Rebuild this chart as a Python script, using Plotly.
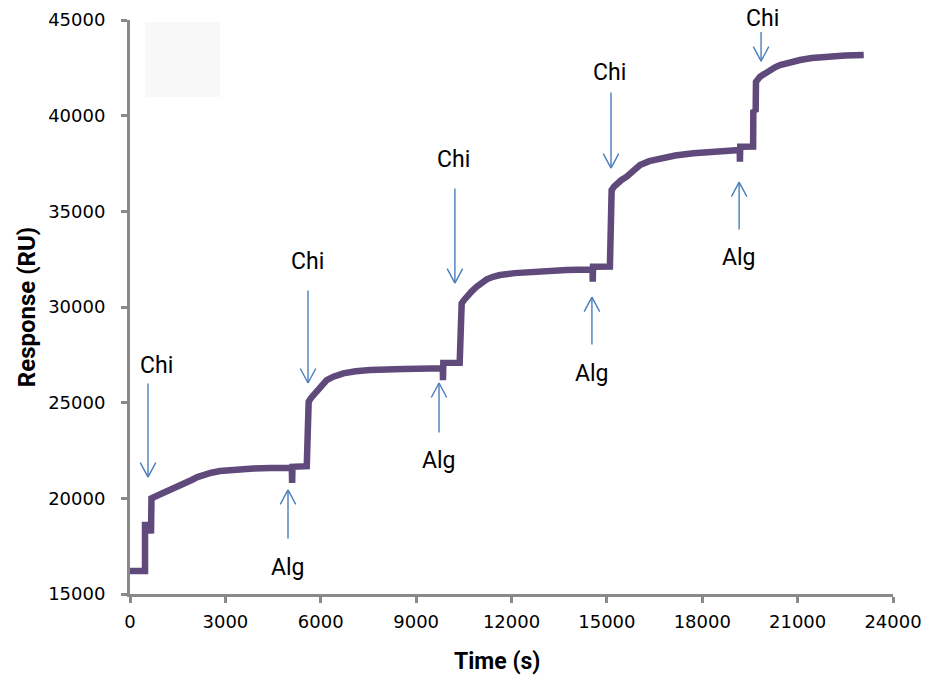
import plotly.graph_objects as go

# Sensorgram: SPR response during alternating chitosan (Chi) / alginate (Alg) injections
time_s = [
    0, 472, 472, 650, 660, 675,
    900, 1153, 1400, 1573, 1760, 1940, 2120, 2306, 2560, 2831, 3300, 3879,
    4400, 5090,
    5100, 5110, 5560,
    5570, 5610, 5620,
    5690, 5767, 5870, 5977, 6080, 6187, 6400, 6710, 7100, 7550, 8597, 9751,
    9840,
    9845, 9855, 10370,
    10380, 10420, 10433,
    10510, 10590, 10750, 10905, 11060, 11220, 11420, 11638, 12100, 12686,
    13735, 14470, 14550,
    14555, 14565, 15095,
    15100, 15140, 15150,
    15230, 15310, 15460, 15623, 15830, 16042, 16330, 16671, 17150, 17719,
    18768, 19083, 19180,
    19185, 19195, 19600,
    19607, 19680, 19690,
    19817, 19970, 20131, 20290, 20446, 20750, 21075, 21450, 21914, 22500,
    23080,
]
response_ru = [
    16200, 16200, 18600, 18600, 18150, 20000,
    20170, 20350, 20500, 20610, 20780, 20960, 21110, 21220, 21340, 21430,
    21510, 21560, 21590, 21600,
    20800, 21650, 21680,
    23550, 23450, 25050,
    25240, 25400, 25630, 25830, 26020, 26180, 26360, 26530, 26640, 26710,
    26760, 26800, 26800,
    26180, 27080, 27090,
    28900, 28800, 30190,
    30370, 30540, 30820, 31060, 31290, 31445, 31580, 31670, 31770, 31845,
    31930, 31960, 31960,
    31320, 32100, 32110,
    34110, 34000, 36110,
    36300, 36460, 36640, 36810, 37130, 37420, 37620, 37770, 37920, 38030,
    38170, 38200, 38210,
    37590, 38380, 38390,
    40300, 40200, 41770,
    42036, 42210, 42385, 42530, 42647, 42800, 42908, 43010, 43082, 43140,
    43170,
]

# Injection markers: label, arrow x, arrow tail y, arrow tip y, label x, label y
marker_labels = ["Chi", "Alg", "Chi", "Alg", "Chi", "Alg", "Chi", "Alg", "Chi"]
arrow_x = [566, 4970, 5600, 9720, 10220, 14530, 15130, 19160, 19850]
arrow_tail = [26030, 17870, 30890, 23410, 36220, 28010, 41240, 34020, 44400]
arrow_tip = [21110, 20440, 26030, 26030, 31250, 30520, 37260, 36530, 42850]
label_x = [849, 4970, 5568, 9720, 10191, 14532, 15098, 19156, 19880]
label_y = [26968, 16411, 32403, 22003, 37733, 26549, 42280, 32612, 45102]

y_min, y_max = 15000, 45000
line_color = "#604A7B"
arrow_color = "#4A7EBB"
axis_color = "#898989"

fig = go.Figure()
fig.add_trace(go.Scatter(
    x=time_s, y=response_ru, mode="lines",
    line=dict(color=line_color, width=6.5),
    showlegend=False, hoverinfo="skip",
))

annotations = []
for lab, ax_, tail, tip, lx, ly in zip(marker_labels, arrow_x, arrow_tail,
                                       arrow_tip, label_x, label_y):
    # shaft
    annotations.append(dict(
        x=ax_, y=tip, ax=ax_, ay=tail, xref="x", yref="y", axref="x", ayref="y",
        text="", showarrow=True, arrowhead=0, arrowwidth=1.4,
        arrowcolor=arrow_color, borderpad=0, standoff=0,
    ))
    # open "V" head made of two short strokes
    dy = -15 if tail > tip else 15
    for dx in (-8, 8):
        annotations.append(dict(
            x=ax_, y=tip, ax=dx, ay=dy, xref="x", yref="y",
            text="", showarrow=True, arrowhead=0, arrowwidth=1.4,
            arrowcolor=arrow_color, borderpad=0, standoff=0,
        ))
    # label text (paper y so labels above the top of the range still show)
    annotations.append(dict(
        x=lx, y=(ly - y_min) / (y_max - y_min), xref="x", yref="paper",
        text=lab, showarrow=False, xanchor="center", yanchor="middle",
        font=dict(family="Roboto", size=23, color="black"),
    ))

annotations.append(dict(
    x=0.481, y=-0.118, xref="paper", yref="paper", text="Time (s)",
    showarrow=False, xanchor="center", yanchor="middle",
    font=dict(family="Roboto", size=23, color="black", weight="bold"),
))

axis_common = dict(
    showline=True, linecolor=axis_color, linewidth=3,
    ticks="outside", ticklen=6, tickwidth=2.5, tickcolor=axis_color,
    showgrid=False, zeroline=False, tickformat="d", automargin=False,
    tickfont=dict(family="DejaVu Sans", size=18, color="black"),
)

fig.update_layout(
    width=926, height=678,
    margin=dict(l=130, r=33, t=20, b=84, autoexpand=False),
    paper_bgcolor="white", plot_bgcolor="white",
    xaxis=dict(range=[0, 24000], tick0=0, dtick=3000,
               ticklabelstandoff=3, **axis_common),
    yaxis=dict(range=[y_min, y_max], tick0=15000, dtick=5000,
               ticklabelstandoff=12,
               title=dict(text="Response (RU)", standoff=6,
                          font=dict(family="Roboto", size=24, color="black",
                                    weight="bold")),
               **axis_common),
    annotations=annotations,
    shapes=[dict(type="rect", xref="paper", yref="paper",
                 x0=0.0197, x1=0.118, y0=0.866, y1=0.9965,
                 fillcolor="#f8f8f8", line=dict(width=0), layer="below")],
)

fig.write_html("out.html")
